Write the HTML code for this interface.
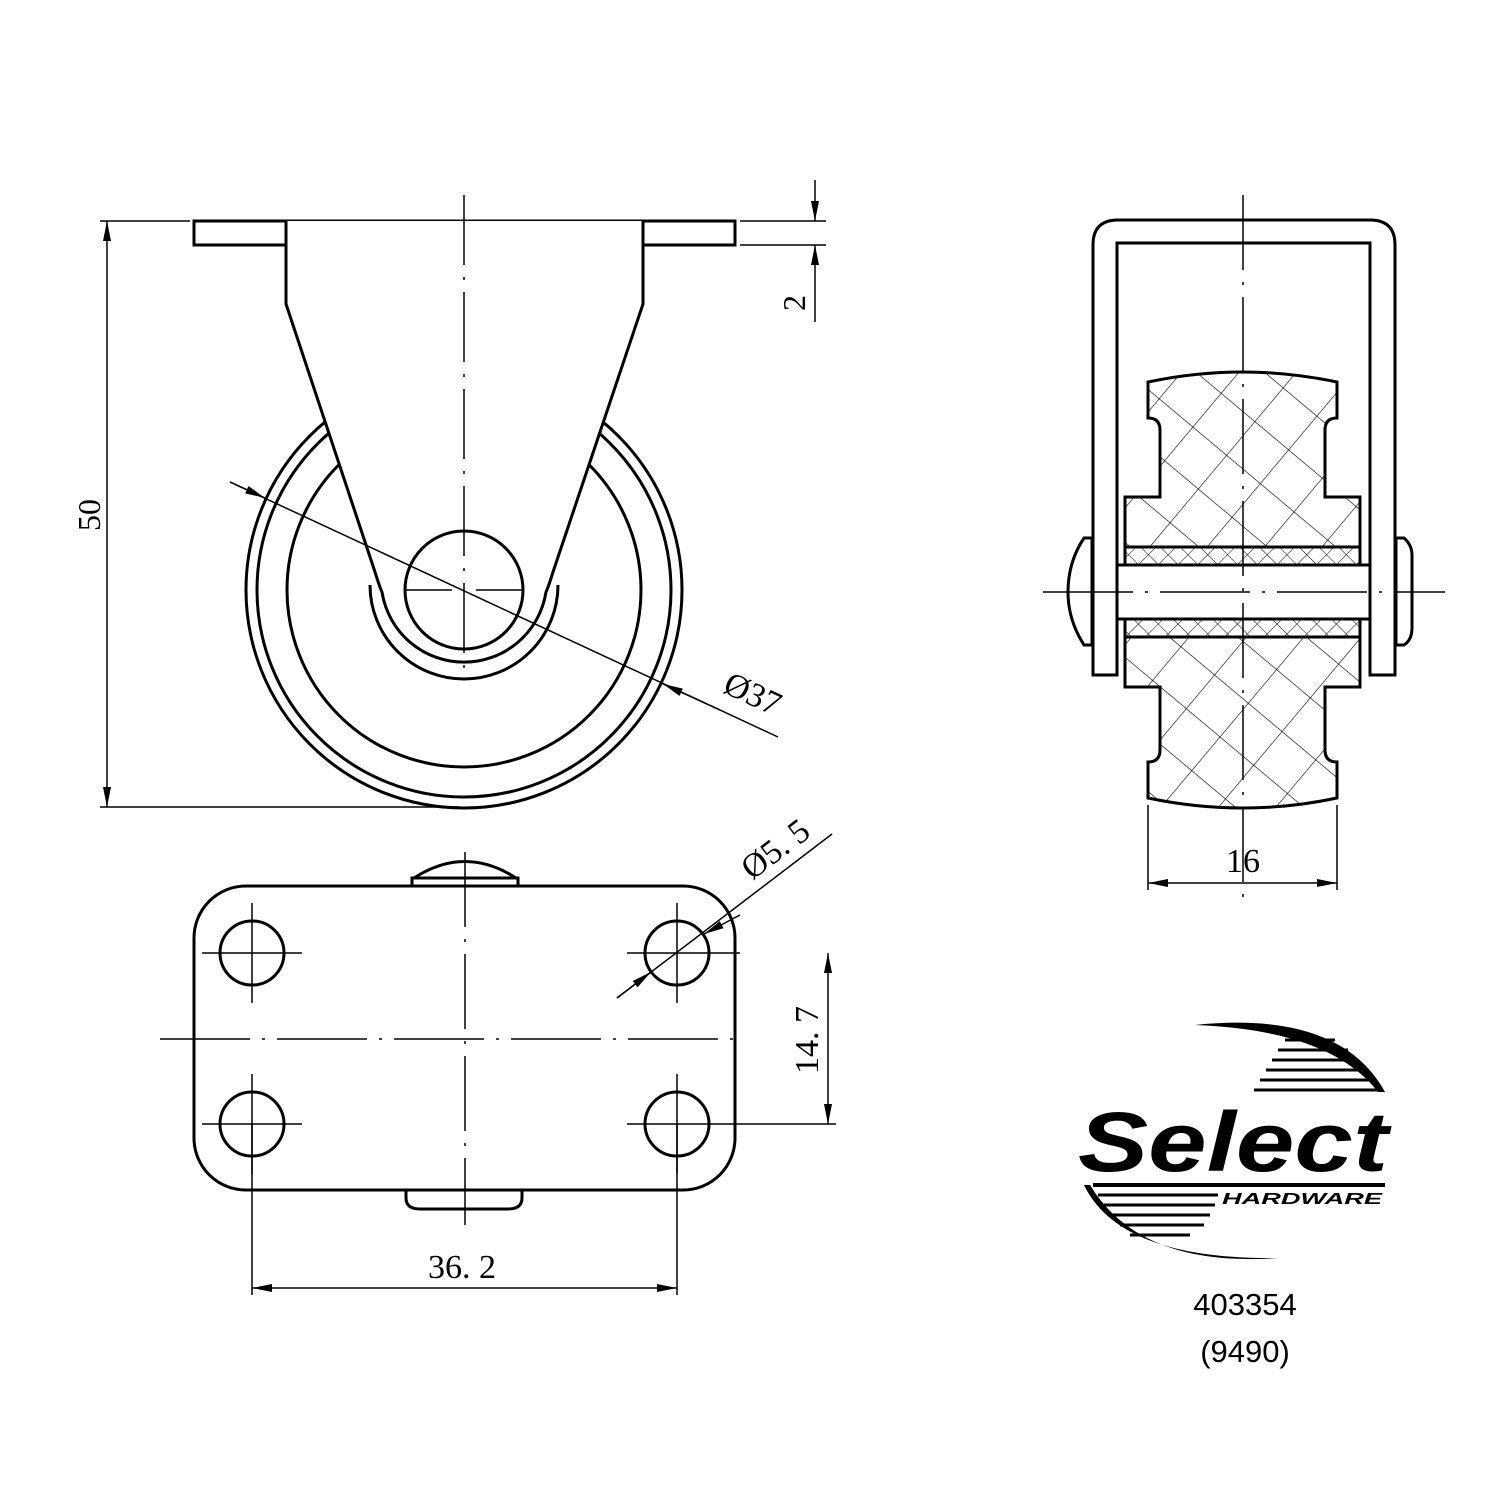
<!DOCTYPE html>
<html><head><meta charset="utf-8"><style>
html,body{margin:0;padding:0;background:#fff}
svg{display:block}
.s{font-family:"Liberation Serif",serif;fill:#000}
.a{font-family:"Liberation Sans",sans-serif;fill:#000}
</style></head><body>
<svg width="1500" height="1500" viewBox="0 0 1500 1500" xmlns="http://www.w3.org/2000/svg">
<defs>
<pattern id="hx" width="44" height="44" patternUnits="userSpaceOnUse" patternTransform="rotate(40)">
<line x1="0" y1="0" x2="0" y2="44" stroke="#000" stroke-width="1.2"/>
<line x1="0" y1="0" x2="44" y2="0" stroke="#000" stroke-width="1.2"/>
</pattern>
<pattern id="hs" width="14" height="14" patternUnits="userSpaceOnUse" patternTransform="rotate(45)">
<line x1="0" y1="0" x2="0" y2="14" stroke="#000" stroke-width="1"/>
<line x1="0" y1="0" x2="14" y2="0" stroke="#000" stroke-width="1"/>
</pattern>
<marker id="ar" viewBox="0 0 20 8" refX="20" refY="4" markerWidth="20" markerHeight="8" markerUnits="userSpaceOnUse" orient="auto"><path d="M0,0 L20,4 L0,8 Z" fill="#000"/></marker>
<marker id="al" viewBox="0 0 20 8" refX="0" refY="4" markerWidth="20" markerHeight="8" markerUnits="userSpaceOnUse" orient="auto"><path d="M20,0 L0,4 L20,8 Z" fill="#000"/></marker>
</defs>
<g fill="none" stroke="#000">
<!-- LEFT VIEW -->
<g stroke-width="3">
<circle cx="464" cy="590" r="218"/>
<circle cx="464" cy="590" r="207"/>
<circle cx="464" cy="590" r="177"/>
<rect x="194" y="221" width="541" height="24" fill="#fff"/>
<path d="M286,221 V304 L375,572 Q380,588 382,592 A83,83 0 0,0 546,592 Q548,588 553,572 L643,304 V221" fill="#fff"/>
<path d="M370,585 A94,94 0 0,0 558,585"/>
<circle cx="464" cy="590" r="59"/>
</g>
<g stroke-width="1.5">
<line x1="464" y1="195" x2="464" y2="680" stroke-dasharray="70,12,3,12"/>
<line x1="405" y1="590" x2="452" y2="590"/><line x1="476" y1="590" x2="524" y2="590"/>
<line x1="100" y1="221" x2="190" y2="221"/>
<line x1="100" y1="807" x2="460" y2="807"/>
<line x1="107" y1="221" x2="107" y2="807" marker-start="url(#al)" marker-end="url(#ar)"/>
<line x1="740" y1="221" x2="826" y2="221"/>
<line x1="740" y1="245" x2="826" y2="245"/>
<line x1="815" y1="180" x2="815" y2="221" marker-end="url(#ar)"/>
<line x1="815" y1="322" x2="815" y2="245" marker-end="url(#ar)"/>
<line x1="230" y1="482" x2="778" y2="737"/>
<line x1="230" y1="482" x2="265" y2="498" marker-end="url(#ar)"/>
<line x1="720" y1="710" x2="663" y2="684" marker-end="url(#ar)"/>
</g>
<!-- BOTTOM VIEW -->
<g stroke-width="3">
<path d="M412,886 V878 H518 V886 M414,878 Q465,845 516,878"/>
<path d="M406,1190 V1198 Q406,1209 420,1209 H508 Q522,1209 522,1198 V1190"/>
<rect x="194" y="886" width="541" height="304" rx="52" fill="#fff"/>
<circle cx="252" cy="953" r="32"/><circle cx="677" cy="953" r="32"/>
<circle cx="252" cy="1124" r="32"/><circle cx="677" cy="1124" r="32"/>
</g>
<g stroke-width="1.5">
<path d="M202,953 H302 M252,903 V1003 M627,953 H740 M677,903 V1003 M202,1124 H302 M252,1074 V1174 M627,1124 H740 M677,1074 V1174"/>
<line x1="465" y1="852" x2="465" y2="1225" stroke-dasharray="75,12,3,12"/>
<line x1="160" y1="1039" x2="735" y2="1039" stroke-dasharray="90,12,3,12"/>
<line x1="252" y1="1124" x2="252" y2="1295"/><line x1="677" y1="1124" x2="677" y2="1295"/>
<line x1="252" y1="1288" x2="677" y2="1288" marker-start="url(#al)" marker-end="url(#ar)"/>
<line x1="740" y1="1124" x2="836" y2="1124"/>
<line x1="828" y1="953" x2="828" y2="1124" marker-start="url(#al)" marker-end="url(#ar)"/>
<line x1="617" y1="998" x2="832" y2="834"/>
<line x1="617" y1="998" x2="651" y2="972" marker-end="url(#ar)"/>
<line x1="740" y1="915" x2="704" y2="934" marker-end="url(#ar)"/>
</g>
<!-- RIGHT VIEW -->
<g stroke-width="3">
<path d="M1093,675 V245 Q1093,220 1118,220 H1370 Q1395,220 1395,245 V675 H1370 V243 H1117 V675 Z" fill="#fff"/>
<path d="M1084,538 H1092 V645 H1084 Q1068,620 1068,592 Q1068,562 1084,538 Z"/>
<path d="M1396,538 H1404 Q1412,545 1412,555 V628 Q1412,640 1404,645 H1396 Z"/>
<path d="M1148,382 Q1243,362 1337,382 V418 Q1325,418 1325,430 V497 H1360 V547 H1125 V497 H1160 V430 Q1160,418 1148,418 Z" fill="url(#hx)"/>
<path d="M1148,798 Q1243,818 1337,798 V762 Q1325,762 1325,750 V687 H1360 V637 H1125 V687 H1160 V750 Q1160,762 1148,762 Z" fill="url(#hx)"/>
<rect x="1125" y="547" width="235" height="18" fill="url(#hs)"/>
<rect x="1125" y="619" width="235" height="18" fill="url(#hs)"/>
<rect x="1117" y="565" width="253" height="54" fill="#fff"/>
</g>
<g stroke-width="1.5">
<line x1="1243" y1="195" x2="1243" y2="905" stroke-dasharray="75,12,3,12"/>
<line x1="1043" y1="592" x2="1445" y2="592" stroke-dasharray="90,12,3,12"/>
<line x1="1148" y1="805" x2="1148" y2="890"/><line x1="1337" y1="805" x2="1337" y2="890"/>
<line x1="1148" y1="883" x2="1337" y2="883" marker-start="url(#al)" marker-end="url(#ar)"/>
</g>
</g>
<text class="s" font-size="32" text-anchor="middle" transform="translate(100,515) rotate(-90)">50</text>
<text class="s" font-size="32" text-anchor="middle" transform="translate(805,303) rotate(-90)">2</text>
<text class="s" font-size="34" text-anchor="middle" transform="translate(748,704) rotate(25)">Ø37</text>
<text class="s" font-size="34" text-anchor="middle" transform="translate(782,858) rotate(-37)">Ø5. 5</text>
<text class="s" font-size="34" text-anchor="middle" transform="translate(818,1040) rotate(-90)">14. 7</text>
<text class="s" x="462" y="1278" font-size="34" text-anchor="middle">36. 2</text>
<text class="s" x="1243" y="872" font-size="34" text-anchor="middle">16</text>
<!-- LOGO -->
<g>
<path d="M1195,1025 Q1340,1010 1385,1092 L1378,1092 Q1330,1030 1195,1025 Z" fill="#000"/>
<g stroke="#000" stroke-width="3">
<line x1="1285" y1="1040" x2="1335" y2="1040"/>
<line x1="1278" y1="1050" x2="1348" y2="1050"/>
<line x1="1272" y1="1060" x2="1358" y2="1060"/>
<line x1="1266" y1="1070" x2="1366" y2="1070"/>
<line x1="1260" y1="1080" x2="1372" y2="1080"/>
<line x1="1254" y1="1090" x2="1378" y2="1090"/>
<line x1="1093" y1="1185" x2="1385" y2="1185" stroke-width="4"/>
<line x1="1098" y1="1195" x2="1218" y2="1195"/>
<line x1="1104" y1="1205" x2="1215" y2="1205"/>
<line x1="1112" y1="1215" x2="1210" y2="1215"/>
<line x1="1120" y1="1225" x2="1204" y2="1225"/>
<line x1="1130" y1="1235" x2="1190" y2="1235"/>
</g>
<path d="M1084,1185 Q1120,1260 1278,1258 Q1140,1268 1090,1185 Z" fill="#000"/>
<text class="a" x="1078" y="1171" font-size="84" font-weight="bold" font-style="italic" textLength="310" lengthAdjust="spacingAndGlyphs">Select</text>
<text class="a" x="1222" y="1204" font-size="16" font-weight="bold" font-style="italic" textLength="160" lengthAdjust="spacingAndGlyphs">HARDWARE</text>
</g>
<text class="a" x="1245" y="1315" font-size="31" text-anchor="middle">403354</text>
<text class="a" x="1245" y="1362" font-size="31" text-anchor="middle">(9490)</text>
</svg>
</body></html>
